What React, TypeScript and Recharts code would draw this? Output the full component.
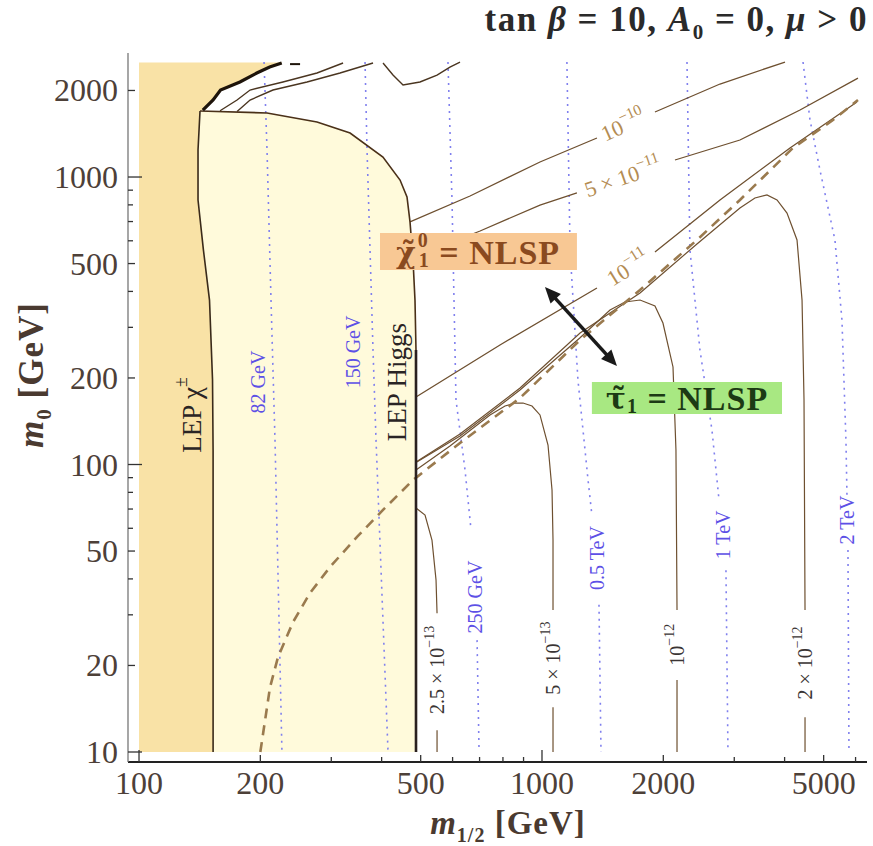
import React from 'react';
import { ComposedChart, Line, Scatter, XAxis, YAxis, ReferenceArea, ReferenceDot, ReferenceLine } from 'recharts';

type Pt = { x: number; y: number | null };
const pts = (a: (number | null)[][]): Pt[] => a.map(([x, y]) => ({ x: x as number, y }));

// axes
const X_DOMAIN: [number, number] = [93.9, 6405];
const Y_DOMAIN: [number, number] = [9.23, 2700];
const xTicks = [100, 200, 300, 400, 500, 600, 700, 800, 900, 1000, 2000, 3000, 4000, 5000, 6000];
const xTickLabels = [100, 200, 500, 1000, 2000, 5000];
const yTicks = [10, 20, 30, 40, 50, 60, 70, 80, 90, 100, 200, 300, 400, 500, 600, 700, 800, 900, 1000, 2000];
const yTickLabels = [10, 20, 50, 100, 200, 500, 1000, 2000];

// excluded regions (m1/2, m0)
const lepCharginoRegion = pts([[100,10],[100,2500],[226,2500],[226,2492],[211,2413],[196,2300],[178,2140],[159.3,2007],[152.7,1853],[144,1710],[141.7,1697],[140.1,1242],[140.1,832],[144.5,557],[149.6,373],[152.2,197],[152.7,112],[152.7,10]]);
const lepHiggsRegion = pts([[141.7,1697],[140.1,1242],[140.1,832],[144.5,557],[149.6,373],[152.2,197],[152.7,112],[152.7,10],[486.8,10],[486.8,250],[484,373],[478.6,514],[470.4,698],[462.4,852],[444.4,976],[403,1174],[334,1422],[276.5,1554],[207.8,1670]]);

// boundaries
const lepCharginoLine = pts([[152.7,10],[152.7,112],[152.2,197],[149.6,373],[144.5,557],[140.1,832],[140.1,1242],[141.7,1697]]);
const lepHiggsCurve = pts([[486.8,250],[484,373],[478.6,514],[470.4,698],[462.4,852],[444.4,976],[403,1174],[334,1422],[276.5,1554],[207.8,1670],[141.7,1697]]);
const lepHiggsVertical = pts([[486.8,10],[486.8,250]]);
const jagLine = pts([[144,1710],[152.7,1853],[159.3,2007],[178,2140],[196,2300],[211,2413],[226,2492]]);
const jagDash = pts([[237,2470],[251,2470]]);
const topLine2 = pts([[158.9,1700],[175.1,1853],[188.6,2007],[227.6,2140],[276.5,2300],[320.9,2492]]);
const topLine3 = pts([[175.1,1690],[188.6,1853],[215,2007],[261.2,2140],[315.4,2300],[380.8,2492]]);
const topV = pts([[403.2,2492],[426.8,2263],[452,2089],[498,2140],[549,2263],[591,2413],[626,2512]]);

// NLSP boundary (dashed)
const nlspBoundary = pts([[200,10],[211.4,16.8],[221.3,21.4],[241.1,28.3],[265.6,35.7],[297.8,44],[347.5,56],[403.2,69.5],[478.6,88.3],[626,118.8],[881.8,170.3],[1243,271],[1751,404.6],[2424,604],[3099,832],[4196,1262],[5274,1579],[6083,1853]]);

// lifetime contours, neutralino side
const c1e10 = pts([[470.4,698],[662.9,859],[988.6,1128],[1369,1367],[1450,null],[1907,1683],[2765,2106],[4009,2512]]);
const c5e11 = pts([[476,523],[702,649],[988.6,799],[1221,880],[1500,null],[2138,1146],[3099,1345],[4368,1710],[6083,2209]]);
const c1e11 = pts([[486.8,171.7],[786.6,260.5],[1369,411],[1500,null],[1907,548],[2765,832],[4125,1262],[6048,1824]]);
// lifetime contours, stau side
const c2e12 = pts([[486.8,102],[626,127.7],[882,184.5],[1243,286.7],[1751,395],[2424,585],[3099,780],[3376,845],[3616,866],[3830,832],[4055,749],[4294,604],[4419,373],[4469,167.6],[4495,31.2],[4495,null],[4495,13.2],[4495,10]]);
const c1e12 = pts([[486.8,101.6],[626,125.6],[881.8,181.6],[1243,276],[1475,344.6],[1607,367.5],[1751,373.4],[1907,355.9],[1996,310.5],[2114,218.4],[2150,112.3],[2163,31.2],[2163,null],[2163,17.8],[2163,10]]);
const c5e13 = pts([[486.8,95.7],[591.1,115.9],[743,148.7],[809.4,159.8],[857,163.6],[897.2,163.6],[944.5,159.8],[988.6,148.7],[1035,116.9],[1059,81.5],[1065,54.6],[1065,31.2],[1065,null],[1065,14.3],[1065,10]]);
const c25e13 = pts([[486.8,70.6],[512.6,66.7],[533.3,54.6],[545.8,39.7],[549,30.4],[549,null],[549,11.9],[549,10]]);

// mass contours (dotted)
const m82 = pts([[204.3,2512],[207.8,1242],[212.6,373],[217.5,121.7],[226.3,10]]);
const m150 = pts([[363.8,2512],[368,1242],[380.8,250],[387.4,121.7],[414.9,10]]);
const m250 = pts([[584.4,2512],[598,832],[611.8,167.6],[644.2,95.7],[666.7,59.2],[680,null],[690,24.5],[698,10]]);
const m500 = pts([[1153,2512],[1174,557],[1228,197],[1301,88.3],[1330,66.7],[1360,null],[1385,32.5],[1401,10]]);
const m1000 = pts([[2290,2512],[2329,557],[2466,250],[2641,131.8],[2750,75.2],[2800,null],[2861,42.9],[2894,10]]);
const m2000 = pts([[4444,2512],[4624,1579],[4895,1058],[5333,604],[5551,318],[5679,121.7],[5712,78.3],[5730,null],[5745,50.4],[5778,10]]);

const massLabels = [
  { text: '82 GeV', x: 197.4, y: 193.6 },
  { text: '150 GeV', x: 339.6, y: 246.3 },
  { text: '250 GeV', x: 682.1, y: 34.6 },
  { text: '0.5 TeV', x: 1369, y: 47.3 },
  { text: '1 TeV', x: 2812, y: 56.9 },
  { text: '2 TeV', x: 5712, y: 64.1 },
];
const stauLabels = [
  { pre: '2.5 × 10', exp: '−13', x: 549, y: 19.3 },
  { pre: '5 × 10', exp: '−13', x: 1065, y: 21.2 },
  { pre: '10', exp: '−12', x: 2163, y: 23.6 },
  { pre: '2 × 10', exp: '−12', x: 4495, y: 20.4 },
];
const diagLabels = [
  { pre: '10', exp: '−10', x: 1588, y: 1517, angle: -24 },
  { pre: '5 × 10', exp: '−11', x: 1588, y: 1000, angle: -19 },
  { pre: '10', exp: '−11', x: 1634, y: 482.6, angle: -32 },
];
const regionLabels = [
  { text: 'LEP χ', sup: '±', x: 135.4, y: 148.7 },
  { text: 'LEP Higgs', sup: '', x: 436.8, y: 193.6 },
];
const neutralinoBox = { x1: 396.3, x2: 1221, y1: 474.8, y2: 638.6, cx: 694, cy: 548.4 };
const stauBox = { x1: 1330, x2: 3941, y1: 149.9, y2: 193.6, cx: 2290, cy: 170.3 };
const arrowEnds = [{ x: 1017, y: 414.4 }, { x: 1535, y: 220.1 }];

const FONT = '"Liberation Serif", "DejaVu Serif", serif';
const TICK_COLOR = '#4d4038';
const FRAME = '#333';
const BROWN = '#6e5030';
const TAN_TEXT = '#b48c52';
const BLUE = '#5d50e6';
const DOT_BLUE = '#8080ee';

const BottomTick = (p: any) => {
  const v = p.payload.value;
  const lab = xTickLabels.includes(v);
  const len = v === 100 || v === 1000 ? 12 : lab ? 7 : 5;
  return (
    <g>
      <line x1={p.x} y1={p.y} x2={p.x} y2={p.y - len} stroke={FRAME} strokeWidth={1.3} />
      {lab && <text x={p.x} y={p.y + 32} textAnchor="middle" fontSize={32} fill={TICK_COLOR} fontFamily={FONT}>{v}</text>}
    </g>
  );
};
const TopTick = (p: any) => {
  const v = p.payload.value;
  const len = v === 100 || v === 1000 ? 12 : xTickLabels.includes(v) ? 7 : 5;
  return <line x1={p.x} y1={p.y} x2={p.x} y2={p.y + len} stroke={FRAME} strokeWidth={1.3} />;
};
const LeftTick = (p: any) => {
  const v = p.payload.value;
  const lab = yTickLabels.includes(v);
  const len = v === 10 || v === 100 || v === 1000 ? 14 : lab ? 7 : 5;
  return (
    <g>
      <line x1={p.x} y1={p.y} x2={p.x + len} y2={p.y} stroke={FRAME} strokeWidth={1.3} />
      {lab && <text x={p.x - 10} y={p.y + 11} textAnchor="end" fontSize={32} fill={TICK_COLOR} fontFamily={FONT}>{v}</text>}
    </g>
  );
};
const RightTick = (p: any) => {
  const v = p.payload.value;
  const len = v === 10 || v === 100 || v === 1000 ? 14 : yTickLabels.includes(v) ? 7 : 5;
  return <line x1={p.x} y1={p.y} x2={p.x - len} y2={p.y} stroke={FRAME} strokeWidth={1.3} />;
};

const hidden = () => <g />;

const rotText = (content: React.ReactNode, angle: number, size: number, color: string, weight: string = 'normal', spacing = 0) => (p: any) => (
  <text x={p.cx} y={p.cy} transform={`rotate(${angle} ${p.cx} ${p.cy})`} textAnchor="middle" dominantBaseline="central"
    fontSize={size} fill={color} fontFamily={FONT} fontWeight={weight} letterSpacing={spacing}>{content}</text>
);

const powText = (pre: string, exp: string, size: number) => (
  <>
    <tspan>{pre}</tspan>
    <tspan fontSize={size * 0.7} dy={-size * 0.4}>{exp}</tspan>
  </>
);

const arrowShape = (p: any) => {
  const { x1, y1, x2, y2 } = p;
  const a = Math.atan2(y2 - y1, x2 - x1);
  const head = (x: number, y: number, ang: number) => {
    const L = 16, W = 7;
    const bx = x - L * Math.cos(ang), by = y - L * Math.sin(ang);
    return `${x},${y} ${bx + W * Math.sin(ang)},${by - W * Math.cos(ang)} ${bx - W * Math.sin(ang)},${by + W * Math.cos(ang)}`;
  };
  const sx = x1 + 10 * Math.cos(a), sy = y1 + 10 * Math.sin(a);
  const ex = x2 - 10 * Math.cos(a), ey = y2 - 10 * Math.sin(a);
  return (
    <g>
      <line x1={sx} y1={sy} x2={ex} y2={ey} stroke="#1a1a1a" strokeWidth={3.5} />
      <polygon points={head(x2, y2, a)} fill="#1a1a1a" />
      <polygon points={head(x1, y1, a + Math.PI)} fill="#1a1a1a" />
    </g>
  );
};

const line = (data: Pt[], stroke: string, width: number, z: number, dash?: string) => (
  <Line data={data} dataKey="y" stroke={stroke} strokeWidth={width} strokeDasharray={dash} dot={false}
    activeDot={false} isAnimationActive={false} connectNulls={false} zIndex={z} legendType="none" />
);

const neutralinoText = (
  <>
    <tspan fontFamily='"DejaVu Serif", serif' fontSize={30}>{'\u03C7\u0303'}</tspan>
    <tspan fontSize={20} dx={1} dy={-12}>0</tspan>
    <tspan fontSize={20} dx={-10} dy={20}>1</tspan>
    <tspan dy={-8}>{' = NLSP'}</tspan>
  </>
);
const stauText = (
  <>
    <tspan fontFamily='"DejaVu Serif", serif' fontSize={30}>{'\u03C4\u0303'}</tspan>
    <tspan fontSize={20} dx={0} dy={8}>1</tspan>
    <tspan dy={-8}>{' = NLSP'}</tspan>
  </>
);

export default function App() {
  return (
    <div style={{ position: 'absolute', left: 0, top: 0, width: 873, height: 846, background: '#fff', fontFamily: FONT, overflow: 'hidden' }}>
      <ComposedChart width={873} height={846} margin={{ top: 53, right: 6, bottom: 44, left: 68 }}>
        <Scatter data={lepCharginoRegion} shape={hidden} line={{ fill: '#f9e2a6', stroke: 'none' }} isAnimationActive={false} zIndex={10} legendType="none" />
        <Scatter data={lepHiggsRegion} shape={hidden} line={{ fill: '#fffadb', stroke: 'none' }} isAnimationActive={false} zIndex={11} legendType="none" />

        {line(m82, DOT_BLUE, 1.6, 20, '2 5')}
        {line(m150, DOT_BLUE, 1.6, 20, '2 5')}
        {line(m250, DOT_BLUE, 1.6, 20, '2 5')}
        {line(m500, DOT_BLUE, 1.6, 20, '2 5')}
        {line(m1000, DOT_BLUE, 1.6, 20, '2 5')}
        {line(m2000, DOT_BLUE, 1.6, 20, '2 5')}

        {line(c1e10, BROWN, 1.3, 30)}
        {line(c5e11, BROWN, 1.3, 30)}
        {line(c1e11, BROWN, 1.3, 30)}
        {line(c2e12, BROWN, 1.2, 30)}
        {line(c1e12, BROWN, 1.2, 30)}
        {line(c5e13, BROWN, 1.2, 30)}
        {line(c25e13, BROWN, 1.2, 30)}
        {line(topLine2, '#4a3520', 1.4, 30)}
        {line(topLine3, '#4a3520', 1.4, 30)}
        {line(topV, '#4a3520', 1.4, 30)}
        {line(nlspBoundary, '#9a7a4e', 2.6, 32, '10 7')}

        {line(lepCharginoLine, '#3a2a1a', 1.6, 40)}
        {line(lepHiggsCurve, '#4a3018', 1.6, 40)}
        {line(lepHiggsVertical, '#2a2020', 2.6, 40)}
        {line(jagLine, '#1e140a', 3.2, 40)}
        {line(jagDash, '#1e140a', 2, 40)}

        <ReferenceArea x1={neutralinoBox.x1} x2={neutralinoBox.x2} y1={neutralinoBox.y1} y2={neutralinoBox.y2} fill="#f8c894" fillOpacity={1} stroke="none" zIndex={50} />
        <ReferenceArea x1={stauBox.x1} x2={stauBox.x2} y1={stauBox.y1} y2={stauBox.y2} fill="#a8e882" fillOpacity={1} stroke="none" zIndex={50} />

        {massLabels.map((l) => (
          <ReferenceDot key={l.text} x={l.x} y={l.y} r={0} zIndex={60} shape={rotText(l.text, -90, 20, BLUE)} />
        ))}
        {stauLabels.map((l) => (
          <ReferenceDot key={l.pre + l.exp} x={l.x} y={l.y} r={0} zIndex={60} shape={rotText(powText(l.pre, l.exp, 20), -90, 20, '#3a3434')} />
        ))}
        {diagLabels.map((l) => (
          <ReferenceDot key={l.pre + l.exp} x={l.x} y={l.y} r={0} zIndex={60} shape={rotText(powText(l.pre, l.exp, 22), l.angle, 22, TAN_TEXT)} />
        ))}
        {regionLabels.map((l) => (
          <ReferenceDot key={l.text} x={l.x} y={l.y} r={0} zIndex={60}
            shape={rotText(<><tspan>{l.text}</tspan>{l.sup && <tspan fontSize={18} dy={-11}>{l.sup}</tspan>}</>, -90, 27, '#2a2424')} />
        ))}
        <ReferenceDot x={neutralinoBox.cx} y={neutralinoBox.cy} r={0} zIndex={60}
          shape={rotText(neutralinoText, 0, 34, '#8a4a1f', 'bold', 1)} />
        <ReferenceDot x={stauBox.cx} y={stauBox.cy} r={0} zIndex={60}
          shape={rotText(stauText, 0, 34, '#1c3a14', 'bold', 1)} />
        <ReferenceLine segment={arrowEnds} shape={arrowShape} zIndex={70} ifOverflow="visible" />

        <XAxis dataKey="x" type="number" scale="log" domain={X_DOMAIN} allowDataOverflow ticks={xTicks} interval={0}
          tick={BottomTick} tickLine={false} tickSize={0} tickMargin={0} height={40} axisLine={{ stroke: '#222', strokeWidth: 2 }} zIndex={80} />
        <XAxis xAxisId="top" orientation="top" dataKey="x" type="number" scale="log" domain={X_DOMAIN} allowDataOverflow ticks={xTicks} interval={0}
          tick={TopTick} tickLine={false} tickSize={0} tickMargin={0} height={0} axisLine={{ stroke: '#222', strokeWidth: 2 }} zIndex={80} />
        <YAxis dataKey="y" type="number" scale="log" domain={Y_DOMAIN} allowDataOverflow ticks={yTicks} interval={0}
          tick={LeftTick} tickLine={false} tickSize={0} tickMargin={0} width={60} axisLine={{ stroke: '#777', strokeWidth: 1.3 }} zIndex={80} />
        <YAxis yAxisId="right" orientation="right" dataKey="y" type="number" scale="log" domain={Y_DOMAIN} allowDataOverflow ticks={yTicks} interval={0}
          tick={RightTick} tickLine={false} tickSize={0} tickMargin={0} width={0} axisLine={{ stroke: '#444', strokeWidth: 1.5 }} zIndex={80} />
      </ComposedChart>

      <div style={{ position: 'absolute', right: 5, top: 0, fontSize: 35, fontWeight: 'bold', color: '#2a2a2a', whiteSpace: 'nowrap', letterSpacing: 1.5 }}>
        tan <i>β</i> = 10, <i>A</i><sub style={{ fontSize: 21 }}>0</sub> = 0, <i>μ</i> &gt; 0
      </div>
      <div style={{ position: 'absolute', left: 508, top: 823, transform: 'translate(-50%, -50%)', fontSize: 33, lineHeight: '34px', fontWeight: 'bold', color: '#4a3a30', whiteSpace: 'nowrap', letterSpacing: 1 }}>
        <i>m</i><sub style={{ fontSize: 20, lineHeight: 0 }}>1/2</sub> [GeV]
      </div>
      <div style={{ position: 'absolute', left: 34, top: 375, transform: 'translate(-50%, -50%) rotate(-90deg)', fontSize: 35, fontWeight: 'bold', color: '#4a3a30', whiteSpace: 'nowrap', letterSpacing: 1 }}>
        <i>m</i><sub style={{ fontSize: 21 }}>0</sub> [GeV]
      </div>
    </div>
  );
}
